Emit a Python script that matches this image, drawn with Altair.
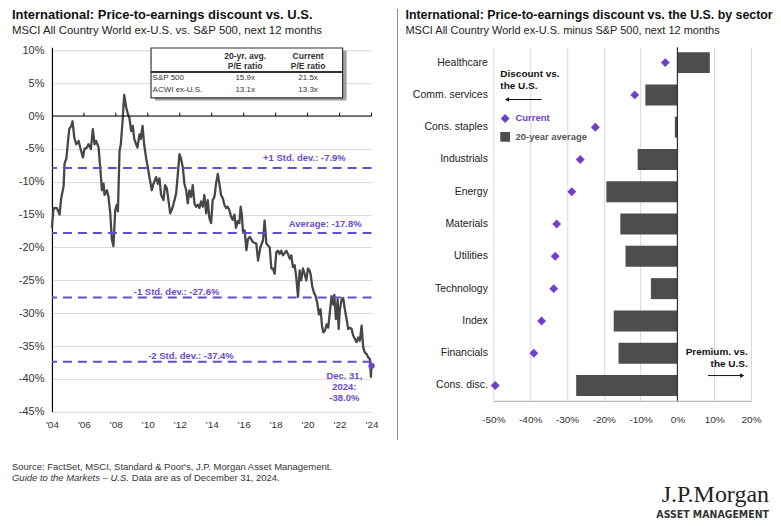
import altair as alt
import pandas as pd

# ---------------- data: left chart ----------------
line_years = [
    2004.00, 2004.10, 2004.31, 2004.48, 2004.58, 2004.73, 2004.79, 2004.90, 2005.00, 2005.08,
    2005.21, 2005.29, 2005.40, 2005.52, 2005.67, 2005.77, 2005.94, 2006.04, 2006.19, 2006.29,
    2006.44, 2006.56, 2006.67, 2006.77, 2006.92, 2007.02, 2007.13, 2007.23, 2007.29, 2007.44,
    2007.54, 2007.65, 2007.75, 2007.85, 2007.96, 2008.06, 2008.13, 2008.23, 2008.31, 2008.42,
    2008.52, 2008.65, 2008.75, 2008.85, 2008.96, 2009.06, 2009.15, 2009.27, 2009.35, 2009.48,
    2009.56, 2009.67, 2009.77, 2009.90, 2010.00, 2010.10, 2010.25, 2010.35, 2010.52, 2010.63,
    2010.73, 2010.83, 2010.98, 2011.08, 2011.19, 2011.29, 2011.40, 2011.54, 2011.67, 2011.77,
    2011.88, 2011.98, 2012.08, 2012.19, 2012.29, 2012.40, 2012.50, 2012.60, 2012.71, 2012.81,
    2012.92, 2013.02, 2013.13, 2013.23, 2013.33, 2013.44, 2013.54, 2013.65, 2013.75, 2013.85,
    2013.96, 2014.06, 2014.17, 2014.27, 2014.38, 2014.48, 2014.58, 2014.69, 2014.79, 2014.90,
    2015.00, 2015.10, 2015.21, 2015.31, 2015.42, 2015.52, 2015.63, 2015.73, 2015.81, 2015.88,
    2015.96, 2016.06, 2016.17, 2016.27, 2016.38, 2016.58, 2016.79, 2016.90, 2017.04, 2017.21,
    2017.31, 2017.42, 2017.63, 2017.73, 2017.83, 2017.94, 2018.04, 2018.15, 2018.25, 2018.35,
    2018.46, 2018.67, 2018.77, 2018.88, 2018.98, 2019.08, 2019.19, 2019.29, 2019.40, 2019.50,
    2019.60, 2019.71, 2019.81, 2019.92, 2020.02, 2020.13, 2020.19, 2020.29, 2020.40, 2020.50,
    2020.60, 2020.71, 2020.81, 2020.90, 2020.98, 2021.08, 2021.19, 2021.29, 2021.40, 2021.50,
    2021.60, 2021.67, 2021.77, 2021.88, 2021.94, 2022.02, 2022.13, 2022.23, 2022.33, 2022.44,
    2022.54, 2022.65, 2022.75, 2022.85, 2022.96, 2023.06, 2023.17, 2023.27, 2023.38, 2023.48,
    2023.58, 2023.69, 2023.79, 2023.90, 2023.96, 2024.00,
]
line_values = [
    -17.0, -14.0, -14.0, -15.0, -12.5, -10.7, -7.2, -6.5, -4.0, -2.0,
    -1.5, -0.8, -3.3, -4.3, -3.8, -4.8, -6.3, -5.0, -4.8, -4.3,
    -5.0, -2.0, -4.3, -3.8, -4.8, -7.8, -11.3, -10.3, -12.0, -11.3,
    -12.3, -14.8, -18.8, -19.8, -14.3, -13.5, -14.5, -5.3, -4.3, -0.8,
    3.2, 1.3, 0.3, -0.3, -2.3, -1.5, -3.5, -4.3, -4.8, -2.8,
    -3.5, -1.5, -4.3, -6.5, -7.8, -9.3, -11.3, -10.3, -9.3, -10.3,
    -9.5, -12.0, -12.8, -10.5, -11.0, -12.8, -14.8, -14.0, -12.8, -11.8,
    -8.8, -5.8, -6.5, -7.8, -10.3, -11.3, -13.3, -11.3, -12.3, -10.5,
    -13.3, -13.8, -13.5, -14.0, -13.0, -13.8, -12.0, -14.8, -12.8, -15.5,
    -16.3, -12.8, -12.3, -10.3, -8.8, -10.3, -12.0, -12.5, -13.5, -14.0,
    -13.8, -14.3, -15.3, -15.8, -15.0, -17.0, -16.0, -16.3, -13.8, -14.9,
    -17.7, -17.4, -20.4, -18.7, -18.4, -19.2, -19.4, -22.0, -20.0, -18.9,
    -15.9, -19.4, -20.0, -23.2, -23.2, -24.0, -20.7, -20.5, -21.0, -20.5,
    -21.2, -20.5, -21.0, -21.7, -21.2, -23.0, -22.7, -24.5, -27.5, -23.5,
    -25.0, -23.2, -24.0, -25.0, -23.2, -23.5, -24.1, -25.9, -26.9, -27.4,
    -28.4, -30.2, -29.4, -31.9, -32.9, -32.7, -31.7, -32.2, -29.7, -27.4,
    -28.7, -27.2, -30.9, -27.9, -32.4, -29.4, -27.9, -27.7, -29.4, -30.9,
    -32.4, -32.2, -32.4, -33.4, -33.9, -34.4, -33.7, -34.2, -31.9, -35.2,
    -36.0, -36.2, -36.7, -37.0, -39.7, -38.0,
]
std_values = [-7.9, -17.8, -27.6, -37.4]
std_texts = ["+1 Std. dev.: -7.9%", "Average: -17.8%", "-1 Std. dev.: -27.6%", "-2 Std. dev.: -37.4%"]
x_tick_years = [2004, 2006, 2008, 2010, 2012, 2014, 2016, 2018, 2020, 2022, 2024]
y_ticks = [10, 5, 0, -5, -10, -15, -20, -25, -30, -35, -40, -45]
last_year = [2024.0]
last_value = [-38.0]
last_text = ["Dec. 31,\n2024:\n-38.0%"]

table_head1 = ["20-yr. avg.", "Current"]
table_head2 = ["P/E ratio", "P/E ratio"]
table_rows = ["S&P 500", "ACWI ex-U.S."]
table_avg = ["15.9x", "13.1x"]
table_cur = ["21.5x", "13.3x"]

# ---------------- data: right chart ----------------
sectors = ["Healthcare", "Comm. services", "Cons. staples", "Industrials", "Energy", "Materials",
           "Utilities", "Technology", "Index", "Financials", "Cons. disc."]
avg_20yr = [8.8, -8.7, -0.7, -10.8, -19.3, -15.5, -14.1, -7.2, -17.3, -16.0, -27.5]
current = [-3.3, -11.6, -22.3, -26.4, -28.7, -32.8, -33.2, -33.6, -36.9, -39.0, -49.5]
x2_ticks = [-50, -40, -30, -20, -10, 0, 10, 20]

# ---------------- layout / style constants ----------------
PURPLE = "#6a4bc6"
DIAMOND = "#7040cc"
LINE_GREY = "#474747"
BAR_GREY = "#4d4d4d"
GRID = "#d9d9d9"
FONT = "Liberation Sans"

# left plot is 3 px taller than its -45..10 range so its 10% line sits 3 px below the right plot's top
W1, H1 = 320, 365
Y_TOP = 10 + 3 * 55 / 362
W2, H2 = 258, 354

dummy = pd.DataFrame({"a": [0]})

# ================= LEFT CHART =================
xs = alt.Scale(domain=[2004, 2024], nice=False, zero=False)
ys = alt.Scale(domain=[-45, Y_TOP], nice=False, zero=False)
AX1 = alt.Axis(values=x_tick_years, labelExpr="\"'\" + slice(toString(datum.value), 2)",
               ticks=False, domain=False, grid=False, labelFontSize=10, labelPadding=8,
               title=None, labelFlush=False)
AY1 = alt.Axis(values=y_ticks, labelExpr="datum.value + '%'", ticks=False, domain=True,
               domainColor="#000000", domainWidth=1.2, grid=True, gridColor=GRID,
               labelFontSize=11, labelPadding=8, title=None)


def X(f):
    return alt.X(f, type="quantitative", scale=xs, axis=AX1)


def Y(f):
    return alt.Y(f, type="quantitative", scale=ys, axis=AY1)


line_df = pd.DataFrame({"year": line_years, "value": line_values})

line = alt.Chart(line_df).mark_line(color=LINE_GREY, strokeWidth=2.3, strokeJoin="round").encode(
    x=X("year"), y=Y("value"))

zero_df = pd.DataFrame({"z": [0]})
zero_rule = alt.Chart(zero_df).mark_rule(color="#000000", strokeWidth=1.2).encode(y=Y("z"))

tick_df = pd.DataFrame({"yr": x_tick_years[1:], "y0": [0] * 10, "y1": [0.5] * 10})
zero_ticks = alt.Chart(tick_df).mark_rule(color="#000000", strokeWidth=1).encode(
    x=X("yr"), y=Y("y0"), y2="y1:Q")

std_df = pd.DataFrame({"level": std_values, "label": std_texts,
                       "lx": [2019.8, 2021.1, 2011.8, 2012.7],
                       "ly": [-6.4, -16.5, -26.8, -36.5]})
std_rules = alt.Chart(std_df).mark_rule(color=PURPLE, strokeWidth=2, strokeDash=[9, 6]).encode(y=Y("level"))
std_labels = alt.Chart(std_df).mark_text(color=PURPLE, fontWeight="bold", fontSize=9.5,
                                         align="center", baseline="middle").encode(
    x=X("lx"), y=Y("ly"), text="label:N")

# table (positions in data units)
tbl_box = pd.DataFrame({"x0": [2010.2], "x1": [2022.19], "y0": [10.35], "y1": [2.77]})
tbl_shadow = alt.Chart(tbl_box).transform_calculate(
    sx0="datum.x0 + 0.25", sx1="datum.x1 + 0.25", sy0="datum.y0 - 0.4", sy1="datum.y1 - 0.4"
).mark_rect(color="#a0a0a0").encode(x=X("sx0"), x2="sx1:Q", y=Y("sy0"), y2="sy1:Q")
tbl_rect = alt.Chart(tbl_box).mark_rect(fill="white", stroke="#333333", strokeWidth=1.2).encode(
    x=X("x0"), x2="x1:Q", y=Y("y0"), y2="y1:Q")
tbl_rule_df = pd.DataFrame({"x0": [2010.2], "x1": [2022.19], "y": [6.71]})
tbl_rule = alt.Chart(tbl_rule_df).mark_rule(color="#333333", strokeWidth=2).encode(
    x=X("x0"), x2="x1:Q", y=Y("y"))
head_df = pd.DataFrame({"cx": [2016.09, 2020.03], "h1": table_head1, "h2": table_head2})
head1 = alt.Chart(head_df).transform_calculate(y="9.2").mark_text(
    fontWeight="bold", fontSize=8.6, color="#333").encode(x=X("cx"), y=Y("y"), text="h1:N")
head2 = alt.Chart(head_df).transform_calculate(y="7.6").mark_text(
    fontWeight="bold", fontSize=8.6, color="#333").encode(x=X("cx"), y=Y("y"), text="h2:N")
row_df = pd.DataFrame({"row": table_rows, "avg": table_avg, "cur": table_cur, "ry": [5.71, 3.94]})
row_lbl = alt.Chart(row_df).transform_calculate(rx="2010.3").mark_text(
    fontSize=8, color="#333", align="left").encode(x=X("rx"), y=Y("ry"), text="row:N")
row_avg = alt.Chart(row_df).transform_calculate(rx="2016.09").mark_text(
    fontSize=8, color="#333").encode(x=X("rx"), y=Y("ry"), text="avg:N")
row_cur = alt.Chart(row_df).transform_calculate(rx="2020.03").mark_text(
    fontSize=8, color="#333").encode(x=X("rx"), y=Y("ry"), text="cur:N")

last_df = pd.DataFrame({"year": last_year, "value": last_value, "t": last_text})
last_pt = alt.Chart(last_df).mark_circle(color=DIAMOND, size=40, opacity=1).encode(x=X("year"), y=Y("value"))
last_lbl = alt.Chart(last_df).transform_calculate(tx="2022.3", ty="-38.8").mark_text(
    color=PURPLE, fontWeight="bold", fontSize=9.5, lineBreak="\n", lineHeight=11,
    align="center", baseline="top").encode(x=X("tx"), y=Y("ty"), text="t:N")

title_l = alt.Chart(dummy).mark_text(align="left", baseline="middle", fontSize=13, fontWeight="bold",
                                     color="#111").encode(
    x=alt.value(-40), y=alt.value(-32.5),
    text=alt.value("International: Price-to-earnings discount vs. U.S."))
sub_l = alt.Chart(dummy).mark_text(align="left", baseline="middle", fontSize=11.4, color="#222").encode(
    x=alt.value(-40), y=alt.value(-16.3),
    text=alt.value("MSCI All Country World ex-U.S. vs. S&P 500, next 12 months"))
foot1 = alt.Chart(dummy).mark_text(align="left", baseline="middle", fontSize=9.5, color="#333").encode(
    x=alt.value(-40), y=alt.value(420.7),
    text=alt.value("Source: FactSet, MSCI, Standard & Poor's, J.P. Morgan Asset Management."))
foot2a = alt.Chart(dummy).mark_text(align="left", baseline="middle", fontSize=9.5,
                                    fontStyle="italic", color="#333").encode(
    x=alt.value(-40), y=alt.value(431.3), text=alt.value("Guide to the Markets \u2013 U.S."))
foot2b = alt.Chart(dummy).mark_text(align="left", baseline="middle", fontSize=9.5, color="#333").encode(
    x=alt.value(80), y=alt.value(431.3), text=alt.value("Data are as of December 31, 2024."))

left = alt.layer(
    line, zero_rule, zero_ticks, std_rules, tbl_shadow, tbl_rect, tbl_rule, head1, head2,
    row_lbl, row_avg, row_cur, std_labels, last_pt, last_lbl, title_l, sub_l, foot1, foot2a, foot2b,
).properties(width=W1, height=H1)

# ================= RIGHT CHART =================
xs2 = alt.Scale(domain=[-50, 20], nice=False, zero=False)
ys2 = alt.Scale(domain=sectors, paddingInner=0.35, paddingOuter=0.15)
AX2 = alt.Axis(values=x2_ticks, labelExpr="datum.value + '%'", ticks=False, domain=True,
               domainColor="#aaaaaa", grid=True, gridColor=GRID, labelFontSize=10,
               labelPadding=14, title=None, labelFlush=False)
AY2 = alt.Axis(ticks=False, domain=False, labelFontSize=10.5, labelPadding=6, title=None,
               labelColor="#222", labelLimit=200)


def X2(f):
    return alt.X(f, type="quantitative", scale=xs2, axis=AX2)


def Y2(f):
    return alt.Y(f, type="nominal", scale=ys2, sort=sectors, axis=AY2)


sec_df = pd.DataFrame({"sector": sectors, "avg": avg_20yr, "current": current, "zero": [0] * len(sectors)})

bars = alt.Chart(sec_df).mark_bar(color=BAR_GREY).encode(x=X2("avg"), x2="zero:Q", y=Y2("sector"))
zero2 = alt.Chart(pd.DataFrame({"z": [0]})).mark_rule(color="#333333", strokeWidth=1.2).encode(x=X2("z"))
diamonds = alt.Chart(sec_df).mark_point(shape="diamond", filled=True, color=DIAMOND, size=80, opacity=1).encode(
    x=X2("current"), y=Y2("sector"))

ann_df = pd.DataFrame({"a": [0]})


def txt(t, xv, yv, **kw):
    return alt.Chart(ann_df).transform_calculate(xv=str(xv)).mark_text(
        baseline="middle", **kw).encode(x=X2("xv"), y=alt.value(yv), text=alt.value(t))


disc1 = txt("Discount  vs.", -48.1, 26.3, align="left", fontWeight="bold", fontSize=10, color="#111")
disc2 = txt("the U.S.", -48.1, 39, align="left", fontWeight="bold", fontSize=10, color="#111")
arrow_l = alt.Chart(ann_df).transform_calculate(x0="-46.5", x1="-36.9").mark_rule(
    color="#111", strokeWidth=1).encode(x=X2("x0"), x2="x1:Q", y=alt.value(52.3))
head_l = alt.Chart(ann_df).transform_calculate(x0="-46.3").mark_point(
    shape="triangle-left", filled=True, color="#111", size=22, opacity=1).encode(x=X2("x0"), y=alt.value(52.3))
leg_d = alt.Chart(ann_df).transform_calculate(x0="-46.8").mark_point(
    shape="diamond", filled=True, color=DIAMOND, size=80, opacity=1).encode(x=X2("x0"), y=alt.value(71.3))
leg_dt = txt("Current", -44.0, 71.3, align="left", fontWeight="bold", fontSize=9.5, color=DIAMOND)
leg_s = alt.Chart(ann_df).transform_calculate(x0="-46.8").mark_square(
    color=BAR_GREY, size=95, opacity=1).encode(x=X2("x0"), y=alt.value(89.7))
leg_st = txt("20-year average", -44.0, 89.7, align="left", fontWeight="bold", fontSize=9.5, color="#555")
prem1 = txt("Premium. vs.", 19.1, 304.7, align="right", fontWeight="bold", fontSize=10, color="#111")
prem2 = txt("the U.S.", 19.1, 317, align="right", fontWeight="bold", fontSize=10, color="#111")
arrow_r = alt.Chart(ann_df).transform_calculate(x0="8.3", x1="17.6").mark_rule(
    color="#111", strokeWidth=1).encode(x=X2("x0"), x2="x1:Q", y=alt.value(328.7))
head_r = alt.Chart(ann_df).transform_calculate(x0="17.6").mark_point(
    shape="triangle-right", filled=True, color="#111", size=22, opacity=1).encode(x=X2("x0"), y=alt.value(328.7))

sep = alt.Chart(dummy).mark_rule(color="#8a8a8a", strokeWidth=1).encode(
    x=alt.value(-96), y=alt.value(-38.5), y2=alt.value(393))
title_r = alt.Chart(dummy).mark_text(align="left", baseline="middle", fontSize=12.4, fontWeight="bold",
                                     color="#111").encode(
    x=alt.value(-88), y=alt.value(-32.5),
    text=alt.value("International: Price-to-earnings discount vs. the U.S. by sector"))
sub_r = alt.Chart(dummy).mark_text(align="left", baseline="middle", fontSize=11, color="#222").encode(
    x=alt.value(-88), y=alt.value(-16.3),
    text=alt.value("MSCI All Country World ex-U.S. minus S&P 500, next 12 months"))
logo1 = alt.Chart(dummy).mark_text(align="right", baseline="alphabetic", fontSize=24, font="Liberation Serif",
                                   color="#222").encode(
    x=alt.value(276), y=alt.value(455), text=alt.value("J.P.Morgan"))
logo2 = alt.Chart(dummy).mark_text(align="right", baseline="alphabetic", fontSize=10.5,
                                   font="DejaVu Sans Condensed", fontWeight="bold",
                                   color="#333").encode(
    x=alt.value(276), y=alt.value(471.5), text=alt.value("ASSET MANAGEMENT"))

right = alt.layer(
    bars, zero2, diamonds, disc1, disc2, arrow_l, head_l, leg_d, leg_dt, leg_s, leg_st,
    prem1, prem2, arrow_r, head_r, sep, title_r, sub_r, logo1, logo2,
).properties(width=W2, height=H2)

chart = alt.hconcat(left, right, spacing=18).properties(
    padding={"left": 4, "top": 0, "right": 0, "bottom": -1}
).configure_view(strokeWidth=0).configure_axis(
    labelFont=FONT, labelColor="#333"
).configure_text(font=FONT)

chart.save("out.html", embed_options={"renderer": "svg", "actions": False})
